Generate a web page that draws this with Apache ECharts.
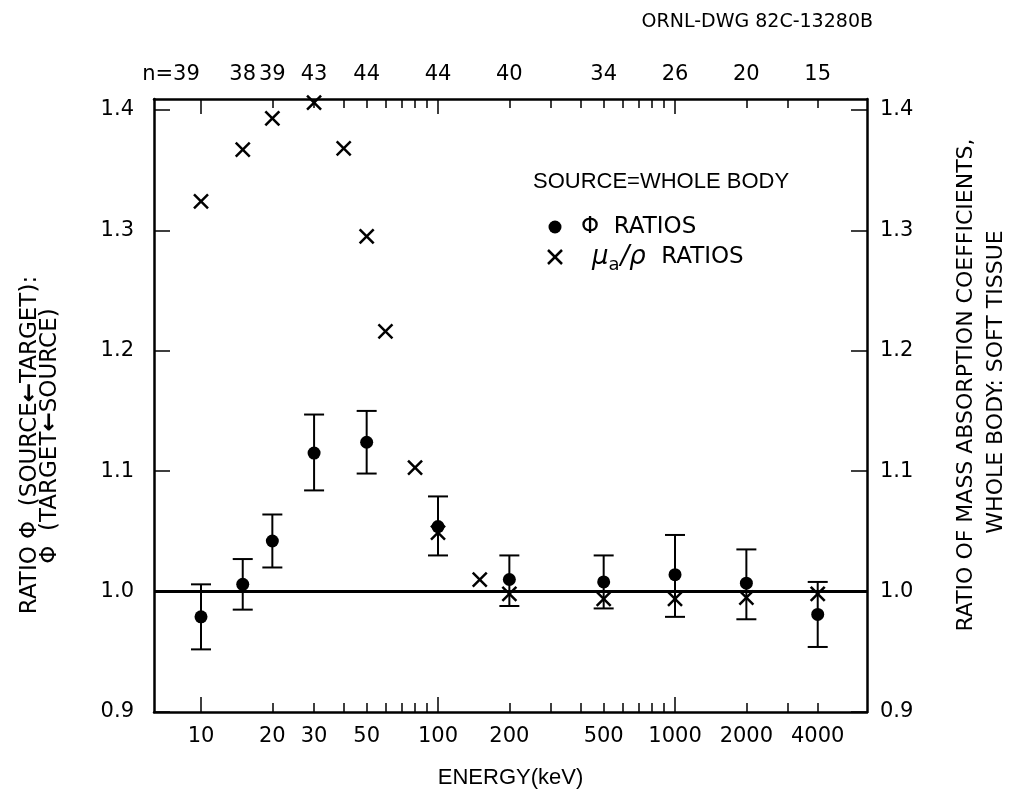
<!DOCTYPE html>
<html><head><meta charset="utf-8">
<script src="https://cdn.jsdelivr.net/npm/echarts@6/dist/echarts.min.js"></script>
<style>html,body{margin:0;padding:0;background:#fff}#c{width:1013px;height:790px}</style>
</head><body><div id="c"></div>
<script>
// ---- data ----
const muEnergies = [10, 15, 20, 30, 40, 50, 60, 80, 100, 150, 200, 500, 1000, 2000, 4000];
const muRatios   = [1.324, 1.367, 1.393, 1.406, 1.368, 1.295, 1.216, 1.103, 1.049, 1.010, 0.998, 0.994, 0.994, 0.995, 0.998];
const phiEnergies = [10, 15, 20, 30, 50, 100, 200, 500, 1000, 2000, 4000];
const phiRatios   = [0.979, 1.006, 1.042, 1.115, 1.124, 1.054, 1.010, 1.008, 1.014, 1.007, 0.981];
const phiLow      = [0.952, 0.985, 1.020, 1.084, 1.098, 1.030, 0.988, 0.986, 0.979, 0.977, 0.954];
const phiHigh     = [1.006, 1.027, 1.064, 1.147, 1.150, 1.079, 1.030, 1.030, 1.047, 1.035, 1.008];
const nCounts     = [39, 38, 39, 43, 44, 44, 40, 34, 26, 20, 15];
const xTickValues = [10, 20, 30, 40, 50, 60, 70, 80, 90, 100, 200, 300, 400, 500, 600, 700, 800, 900, 1000, 2000, 3000, 4000];
const xDecadeTicks = [10, 100, 1000];
const xLabelValues = [10, 20, 30, 50, 100, 200, 500, 1000, 2000, 4000];
const yTickValues = [0.9, 1.0, 1.1, 1.2, 1.3, 1.4];

// ---- chart ----
const L = Math.log10;
const FONT = 'Liberation Sans';
const DJ = 'DejaVu Sans';
const xMin = 0.8017, xMax = 3.810;
const black = '#000';

function nearestIdx(arr, e) {
  let best = 0;
  arr.forEach((a, i) => { if (Math.abs(L(a) - L(e)) < Math.abs(L(arr[best]) - L(e))) best = i; });
  return best;
}

function xAx(pos, opts) {
  return Object.assign({
    type: 'value', position: pos, min: xMin, max: xMax,
    axisLine: { show: false },
    splitLine: { show: false },
    axisLabel: { show: false },
    axisTick: { show: false }
  }, opts);
}

const tickStyle = { color: black, width: 1.5 };
const labelFont = { color: black, fontSize: 21, fontFamily: DJ };

const xAxes = [
  xAx('bottom', {
    axisLine: { show: true, onZero: false, lineStyle: { color: black, width: 2.5 } },
    axisTick: { show: true, inside: true, length: 9, customValues: xTickValues.map(L), lineStyle: tickStyle },
    axisLabel: Object.assign({ show: true, margin: 14, customValues: xLabelValues.map(L),
      formatter: v => String(Math.round(Math.pow(10, v))) }, labelFont),
    name: 'ENERGY(keV)', nameLocation: 'middle', nameGap: 55,
    nameTextStyle: { color: black, fontSize: 22, fontFamily: FONT }
  }),
  xAx('bottom', {
    axisTick: { show: true, inside: true, length: 15, customValues: xDecadeTicks.map(L), lineStyle: tickStyle }
  }),
  xAx('top', {
    axisLine: { show: true, onZero: false, lineStyle: { color: black, width: 2.5 } },
    axisTick: { show: true, inside: true, length: 9, customValues: xTickValues.map(L), lineStyle: tickStyle },
    axisLabel: Object.assign({ show: true, margin: 14, customValues: phiEnergies.map(L),
      formatter: v => {
        const i = nearestIdx(phiEnergies, Math.pow(10, v));
        return i === 0 ? '{f|n=' + nCounts[i] + '}' : '{d|' + nCounts[i] + '}';
      },
      rich: {
        f: { fontSize: 21, fontFamily: DJ, color: black, padding: [0, 60, 0, 0] },
        d: { fontSize: 21, fontFamily: DJ, color: black }
      } }, labelFont)
  }),
  xAx('top', {
    axisTick: { show: true, inside: true, length: 15, customValues: xDecadeTicks.map(L), lineStyle: tickStyle }
  })
];

function yAx(pos, margin) {
  return {
    type: 'value', position: pos, min: 0.9, max: 1.409,
    axisLine: { show: true, onZero: false, lineStyle: { color: black, width: 2.5 } },
    axisTick: { show: true, inside: true, length: 16, customValues: yTickValues, lineStyle: tickStyle },
    axisLabel: Object.assign({ show: true, margin: margin, customValues: yTickValues,
      formatter: v => v.toFixed(1) }, labelFont),
    splitLine: { show: false }
  };
}

function renderErr(params, api) {
  const x = api.value(0);
  const p1 = api.coord([x, api.value(1)]);
  const p2 = api.coord([x, api.value(2)]);
  const w = 10;
  const st = { stroke: black, lineWidth: 2 };
  return { type: 'group', children: [
    { type: 'line', shape: { x1: p1[0], y1: p1[1], x2: p2[0], y2: p2[1] }, style: st },
    { type: 'line', shape: { x1: p1[0] - w, y1: p1[1], x2: p1[0] + w, y2: p1[1] }, style: st },
    { type: 'line', shape: { x1: p2[0] - w, y1: p2[1], x2: p2[0] + w, y2: p2[1] }, style: st }
  ] };
}

function crossShape(cx, cy, h, lw) {
  const st = { stroke: black, lineWidth: lw };
  return [
    { type: 'line', shape: { x1: cx - h, y1: cy - h, x2: cx + h, y2: cy + h }, style: st },
    { type: 'line', shape: { x1: cx - h, y1: cy + h, x2: cx + h, y2: cy - h }, style: st }
  ];
}

function renderCross(params, api) {
  const p = api.coord([api.value(0), api.value(1)]);
  return { type: 'group', children: crossShape(p[0], p[1], 7, 2.5) };
}

function vText(x, y, text, size, rich) {
  return { type: 'text', x: x, y: y, rotation: Math.PI / 2, style: { text: text, fill: black,
    font: size + 'px "' + DJ + '"', align: 'center', textAlign: 'center',
    verticalAlign: 'middle', textVerticalAlign: 'middle', rich: rich } };
}

const arrowRich = {
  t: { fontSize: 23, fontFamily: DJ, fill: black, color: black },
  a: { fontSize: 23, fontFamily: DJ, fontWeight: 'bold', fill: black, color: black }
};

const option = {
  backgroundColor: '#fff',
  animation: false,
  grid: { left: 154, right: 146, top: 99, bottom: 78, containLabel: false, outerBoundsMode: 'none' },
  xAxis: xAxes,
  yAxis: [yAx('left', 20), yAx('right', 13)],
  series: [
    {
      type: 'custom', xAxisIndex: 0, yAxisIndex: 0, renderItem: renderErr,
      encode: { x: 0, y: [1, 2] },
      data: phiEnergies.map((e, i) => [L(e), phiLow[i], phiHigh[i]]),
      z: 2,
      markLine: {
        silent: true, symbol: ['none', 'none'], label: { show: false },
        lineStyle: { color: black, width: 3, type: 'solid' },
        data: [{ yAxis: 1.0 }]
      }
    },
    {
      type: 'scatter', xAxisIndex: 0, yAxisIndex: 0, symbol: 'circle', symbolSize: 13,
      itemStyle: { color: black, opacity: 1 },
      data: phiEnergies.map((e, i) => [L(e), phiRatios[i]]),
      z: 3
    },
    {
      type: 'custom', xAxisIndex: 0, yAxisIndex: 0, renderItem: renderCross,
      encode: { x: 0, y: 1 },
      data: muEnergies.map((e, i) => [L(e), muRatios[i]]),
      z: 4
    }
  ],
  graphic: [
    { type: 'text', x: 873, y: 22, style: { text: 'ORNL-DWG 82C-13280B', fill: black,
      font: '19px "' + DJ + '"', align: 'right', textAlign: 'right', verticalAlign: 'middle', textVerticalAlign: 'middle' } },
    { type: 'text', x: 533, y: 182, style: { text: 'SOURCE=WHOLE BODY', fill: black,
      font: '22px "' + FONT + '"', verticalAlign: 'middle', textVerticalAlign: 'middle' } },
    { type: 'circle', shape: { cx: 555, cy: 227, r: 6.5 }, style: { fill: black } },
    { type: 'text', x: 581, y: 227, style: { text: 'Φ  RATIOS', fill: black,
      font: '23px "' + DJ + '"', verticalAlign: 'middle', textVerticalAlign: 'middle' } },
    { type: 'group', children: crossShape(555, 257, 7, 2.5) },
    { type: 'text', x: 592, y: 257, style: {
      text: '{i|μ}{s|a}{i|/ρ} {r|RATIOS}', fill: black, font: '23px "' + DJ + '"',
      verticalAlign: 'middle', textVerticalAlign: 'middle',
      rich: {
        i: { fontStyle: 'italic', fontSize: 26, fontFamily: DJ, fill: black, color: black },
        s: { fontSize: 18, fontFamily: DJ, fill: black, color: black, padding: [16, 1, 0, 0] },
        r: { fontSize: 23, fontFamily: DJ, fill: black, color: black, padding: [0, 0, 0, 8] }
      } } },
    vText(30, 445, '{t|RATIO Φ  (SOURCE}{a|←}{t|TARGET):}', 23, arrowRich),
    vText(50, 436, '{t|Φ  (TARGET}{a|←}{t|SOURCE)}', 23, arrowRich),
    vText(966, 385, 'RATIO OF MASS ABSORPTION COEFFICIENTS,', 22),
    vText(996, 382, 'WHOLE BODY: SOFT TISSUE', 22)
  ]
};

const chart = echarts.init(document.getElementById('c'), null, { renderer: 'canvas' });
chart.setOption(option);
</script>
</body></html>
